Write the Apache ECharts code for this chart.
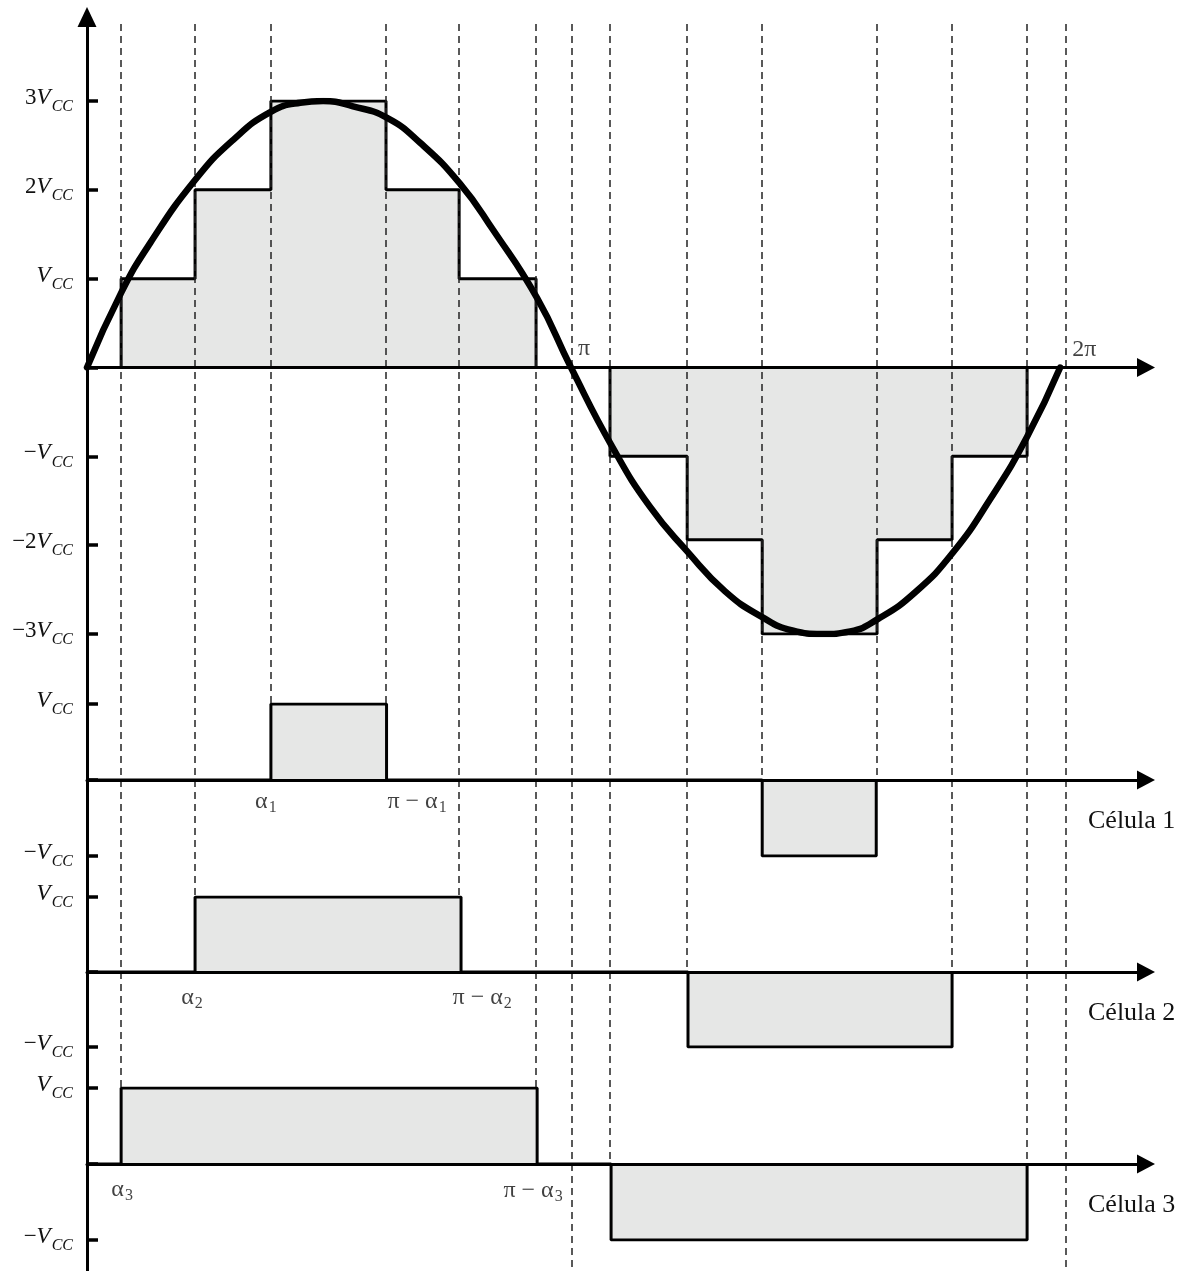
<!DOCTYPE html>
<html>
<head>
<meta charset="utf-8">
<script src="https://cdn.jsdelivr.net/npm/echarts@6/dist/echarts.min.js"></script>
<style>html,body{margin:0;padding:0;background:#fff}#c{width:1184px;height:1271px}</style>
</head>
<body>
<div id="c"></div>
<script>
// ---------- DATA (x in electrical degrees, y in multiples of Vcc) ----------
const dashedX     = [12.6, 39.9, 67.9, 110.4, 137.4, 165.8, 179.1, 193.1, 221.6, 249.3, 291.7, 319.4, 347.1, 361.2];
const dashedCell  = [3,    2,    1,    1,     2,     3,     0,     3,     2,     1,     1,     2,     3,     0];
const dashedLevel = [1,    1,    1,    1,     1,     1,     0,     0,     0,     0,     0,     0,     0,     0];

const outputEdges  = [0, 12.6, 39.9, 67.9, 110.4, 137.4, 165.8, 193.1, 221.6, 249.3, 291.7, 319.4, 347.1];
const outputLevels = [0, 1,    2,    3,    2,     1,     0,     -1,    -1.94, -3,    -1.94, -1,    0];

const refX = [0, 12.6, 23.3, 39.9, 53.9, 68.0, 78.7, 87.2, 98.2, 110.8, 123.0, 137.7, 149.9, 166.2, 178.7,
              193.9, 207.9, 221.6, 235.6, 249.3, 260.4, 271.4, 281.8, 292.1, 305.8, 319.8, 333.5, 347.1, 359.3];
const refY = [0, 0.84, 1.40, 2.11, 2.56, 2.88, 2.98, 3.0,  2.94, 2.81,  2.53,  2.07,  1.55,  0.78,  0,
              -0.89, -1.57, -2.07, -2.52, -2.81, -2.96, -3.0, -2.97, -2.83, -2.53, -2.08, -1.48, -0.78, 0];

const cell1Edges  = [0, 67.9, 110.6, 249.3, 291.4];
const cell1Levels = [0, 1,    0,     -1,    0];
const cell2Edges  = [0, 39.9, 138.1, 221.9, 319.4];
const cell2Levels = [0, 1,    0,     -1,    0];
const cell3Edges  = [0, 12.6, 166.2, 193.5, 347.1];
const cell3Levels = [0, 1,    0,     -1,    0];

const mainTickValues = [3, 2, 1, -1, -2, -3];
const mainTickPrefix = ['3', '2', '', '\u2212', '\u22122', '\u22123'];
const cellTickValues = [1, -1];
const cellTickPrefix = ['', '\u2212'];

const cellNames = ['Célula 1', 'Célula 2', 'Célula 3'];
const cellLabelX    = [[67.9, 110.4], [39.9, 137.4], [12.6, 165.8]];
const cellLabelMain = [['\u03b1', '\u03c0 \u2212 \u03b1'], ['\u03b1', '\u03c0 \u2212 \u03b1'], ['\u03b1', '\u03c0 \u2212 \u03b1']];
const cellLabelSub  = [['1', '1'], ['2', '2'], ['3', '3']];
const piLabelX = [179.1, 361.2];
const piLabelText = ['\u03c0', '2\u03c0'];

// ---------- STYLE ----------
const SERIF = '"Liberation Serif", "DejaVu Serif", serif';
const INK = '#111';
const FILL = '#e6e7e6';
const X_MAX = 391;
const cellLabelOffsets = [[[-5, 22], [31, 22]], [[-3, 26], [23, 26]], [[1, 26], [-3, 27]]];
const piOffsets = [[12, -19], [19, -18]];

const zip = (a, b) => a.map((v, i) => [v, b[i]]);

const vRich = {
  n: { fontFamily: SERIF, fontSize: 23, color: INK, padding: [0, 0, 6, 0] },
  v: { fontFamily: SERIF, fontSize: 23, fontStyle: 'italic', color: INK, padding: [0, 1, 6, 0] },
  s: { fontFamily: SERIF, fontSize: 16, fontStyle: 'italic', color: INK, padding: [12, 0, 0, 0] }
};
const aRich = {
  g: { fontFamily: SERIF, fontSize: 24, color: INK },
  i: { fontFamily: SERIF, fontSize: 16, color: INK, padding: [12, 0, 0, 1] }
};
function vccFormatter(values, prefix) {
  return function (val) {
    const i = values.indexOf(val);
    if (i < 0) return '';
    return (prefix[i] ? '{n|' + prefix[i] + '}' : '') + '{v|V}{s|CC}';
  };
}

const gridBase = { left: 87, right: 1184 - 87 - 1059, outerBoundsMode: 'none', containLabel: false };
const grids = [
  Object.assign({ top: 101, height: 533 }, gridBase),
  Object.assign({ top: 704, height: 152 }, gridBase),
  Object.assign({ top: 897, height: 150 }, gridBase),
  Object.assign({ top: 1088, height: 152 }, gridBase),
  Object.assign({ top: 17, bottom: 0 }, gridBase),
  Object.assign({ top: 24, bottom: 0 }, gridBase)
];

const arrowLine = { show: true, onZero: true, symbol: ['none', 'triangle'], symbolSize: [19, 18],
  lineStyle: { color: '#000', width: 3 } };

const xAxes = grids.map((g, i) => {
  const ax = { type: 'value', gridIndex: i, min: 0, max: X_MAX, z: 10,
    axisTick: { show: false }, axisLabel: { show: false }, splitLine: { show: false } };
  if (i <= 3) {
    ax.axisLine = arrowLine;
  } else {
    ax.show = false;
  }
  if (i >= 1 && i <= 3) {
    ax.name = cellNames[i - 1];
    ax.nameLocation = 'end';
    ax.nameGap = -58;
    ax.nameTextStyle = { fontFamily: SERIF, fontSize: 26, color: INK, align: 'left', verticalAlign: 'top', padding: [28, 0, 0, 0] };
  }
  return ax;
});

const tickStyle = { show: true, inside: true, length: 11, lineStyle: { color: '#000', width: 3.5 } };
const yAxes = [
  { type: 'value', gridIndex: 0, min: -3, max: 3, interval: 1, axisLine: { show: false }, axisTick: tickStyle,
    splitLine: { show: false },
    axisLabel: { margin: 14, formatter: vccFormatter(mainTickValues, mainTickPrefix), rich: vRich } }
];
for (let k = 1; k <= 3; k++) {
  yAxes.push({ type: 'value', gridIndex: k, min: -1, max: 1, interval: 1, axisLine: { show: false }, axisTick: tickStyle,
    splitLine: { show: false },
    axisLabel: { margin: 14, formatter: vccFormatter(cellTickValues, cellTickPrefix), rich: vRich } });
}
yAxes.push({ type: 'value', gridIndex: 4, min: 0, max: 1, z: 10,
  axisLine: { show: true, onZero: false, symbol: ['none', 'triangle'], symbolSize: [19, 20], lineStyle: { color: '#000', width: 3 } },
  axisTick: { show: false }, axisLabel: { show: false }, splitLine: { show: false } });
yAxes.push({ type: 'value', gridIndex: 5, min: 0, max: 1, show: false });

function stepSeries(idx, edges, levels) {
  return { type: 'line', xAxisIndex: idx, yAxisIndex: idx, step: 'end', data: zip(edges, levels),
    symbol: 'none', z: 2, lineStyle: { color: '#000', width: 3 },
    areaStyle: { color: FILL, opacity: 1, origin: 0 } };
}
function labelSeries(idx, xs, mains, subs, offsets) {
  return { type: 'scatter', xAxisIndex: idx, yAxisIndex: idx, symbolSize: 0, z: 6,
    data: xs.map((x, j) => ({ value: [x, 0], label: { show: true, position: 'inside', offset: offsets[j],
      formatter: '{g|' + mains[j] + '}' + (subs[j] ? '{i|' + subs[j] + '}' : ''), rich: aRich } })) };
}

const series = [
  stepSeries(0, outputEdges, outputLevels),
  { type: 'line', xAxisIndex: 0, yAxisIndex: 0, data: zip(refX, refY), smooth: 0.5, symbol: 'none', z: 5,
    lineStyle: { color: '#000', width: 6.5, cap: 'round', join: 'round' } },
  labelSeries(0, piLabelX, piLabelText, ['', ''], piOffsets),
  stepSeries(1, cell1Edges, cell1Levels),
  stepSeries(2, cell2Edges, cell2Levels),
  stepSeries(3, cell3Edges, cell3Levels),
  labelSeries(1, cellLabelX[0], cellLabelMain[0], cellLabelSub[0], cellLabelOffsets[0]),
  labelSeries(2, cellLabelX[1], cellLabelMain[1], cellLabelSub[1], cellLabelOffsets[1]),
  labelSeries(3, cellLabelX[2], cellLabelMain[2], cellLabelSub[2], cellLabelOffsets[2]),
  { type: 'line', xAxisIndex: 4, yAxisIndex: 4, data: [], symbol: 'none' },
  { id: 'dashes', type: 'lines', coordinateSystem: 'cartesian2d', xAxisIndex: 5, yAxisIndex: 5, z: 3,
    silent: true, polyline: false, data: [],
    lineStyle: { type: [7, 5], width: 1.5, color: '#222', opacity: 1, curveness: 0 } }
];

const chart = echarts.init(document.getElementById('c'), null, { renderer: 'canvas' });
chart.setOption({
  animation: false,
  backgroundColor: '#fff',
  grid: grids,
  xAxis: xAxes,
  yAxis: yAxes,
  series: series
});

// Dashed guide lines: from the top down to the pulse edge in the cell each angle belongs to
const dashData = dashedX.map((x, i) => {
  let yEnd = 0;
  const cell = dashedCell[i];
  if (cell > 0) {
    const px = chart.convertToPixel({ gridIndex: cell }, [x, dashedLevel[i]]);
    yEnd = chart.convertFromPixel({ gridIndex: 5 }, px)[1];
  }
  return { coords: [[x, 1], [x, yEnd]] };
});
chart.setOption({ series: [{ id: 'dashes', data: dashData }] });
</script>
</body>
</html>
